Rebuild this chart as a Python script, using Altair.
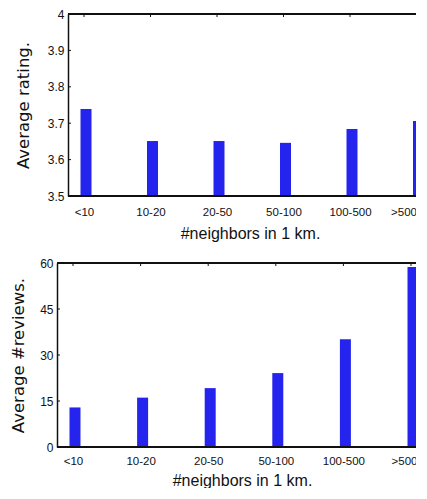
import altair as alt
import pandas as pd

cats = ["<10", "10-20", "20-50", "50-100", "100-500", ">500"]
rating = [3.739, 3.651, 3.651, 3.646, 3.684, 3.706]
reviews = [12.9, 16.1, 19.2, 24.1, 35.1, 58.7]
rating_ticks = [3.5, 3.6, 3.7, 3.8, 3.9, 4.0]
review_ticks = [0, 15, 30, 45, 60]

BAR = "#2424ee"
INK = "#111111"
LABEL_FONT = "Liberation Sans"
TITLE_FONT_Y = "DejaVu Sans"
LAST = cats[-1]


def panel(values, ticks, ytitle, domain, width, height, fmt, shift, xrange,
          ytitle_pad, ylabel_pad, xlabel_pad, xtitle_pad, xtitle_x, right_border, last_off):
    df = pd.DataFrame({"cat": cats, "val": values})
    tdf = pd.DataFrame({"val": ticks})
    xs = alt.Scale(type="point", range=xrange, padding=0)
    ys = alt.Scale(domain=domain, nice=False, zero=False)
    xaxis = alt.Axis(title="#neighbors in 1 km.", labelAngle=0, ticks=False,
                     domain=False, labelPadding=xlabel_pad, titlePadding=xtitle_pad,
                     titleX=xtitle_x,
                     labelAlign={"condition": {"test": f"datum.value === '{LAST}'", "value": "right"},
                                 "value": "center"},
                     labelOffset={"condition": {"test": f"datum.value === '{LAST}'", "value": last_off},
                                  "value": 0},
                     labelFont=LABEL_FONT, labelFontSize=11.5,
                     titleFont=LABEL_FONT, titleFontSize=16, titleFontWeight="normal",
                     labelColor=INK, titleColor=INK)
    yaxis = alt.Axis(title=ytitle, values=ticks, format=fmt, ticks=False, grid=False,
                     domain=True, domainColor=INK, domainWidth=1.5, offset=-shift,
                     labelPadding=ylabel_pad, titlePadding=ytitle_pad,
                     labelFont=LABEL_FONT, labelFontSize=12,
                     titleFont=TITLE_FONT_Y, titleFontSize=16.5, titleFontWeight="normal",
                     labelColor=INK, titleColor=INK)
    bars = alt.Chart(df).mark_bar(size=11, color=BAR, xOffset=2, clip=True).encode(
        x=alt.X("cat:N", sort=cats, scale=xs, axis=xaxis),
        y=alt.Y("val:Q", scale=ys, axis=yaxis),
        y2=alt.datum(domain[0]),
    )
    layers = [bars]
    # inward ticks on the left axis
    layers.append(alt.Chart(tdf).mark_rule(color=INK, strokeWidth=1).encode(
        y=alt.Y("val:Q", scale=ys, axis=yaxis), x=alt.value(shift), x2=alt.value(shift + 3)))
    # inward ticks on the top border
    layers.append(alt.Chart(df).mark_rule(color=INK, strokeWidth=1).encode(
        x=alt.X("cat:N", sort=cats, scale=xs, axis=xaxis), y=alt.value(0), y2=alt.value(3)))
    # top and bottom borders
    layers.append(alt.Chart(tdf).mark_rule(color=INK, strokeWidth=1.5).encode(
        x=alt.value(shift), x2=alt.value(width), y=alt.value(0)))
    layers.append(alt.Chart(tdf).mark_rule(color=INK, strokeWidth=1.5).encode(
        x=alt.value(shift), x2=alt.value(width), y=alt.value(height)))
    if right_border:
        layers.append(alt.Chart(tdf).mark_rule(color=INK, strokeWidth=1).encode(
            y=alt.Y("val:Q", scale=ys, axis=yaxis), x=alt.value(width - 4), x2=alt.value(width - 1)))
        layers.append(alt.Chart(tdf).mark_rule(color=INK, strokeWidth=1).encode(
            x=alt.value(width - 0.5), y=alt.value(0), y2=alt.value(height)))
    return alt.layer(*layers).properties(width=width, height=height)


top = panel(rating, rating_ticks, "Average rating.", [3.5, 4.0], 370, 182, ".1~f",
            11, [27, 359.5], 16, 4, 10, 7.5, 193, False, 0)
bottom = panel(reviews, review_ticks, "Average #reviews.", [0, 60], 370, 184, "d",
               0, [16, 354], 13, 4, 8, 5.5, 185, True, 6)

chart = alt.vconcat(top, bottom, spacing=16).configure_view(
    strokeWidth=0
).properties(padding={"left": 2, "top": 0, "right": -12, "bottom": 0}, background="white")

chart.save("out.html", embed_options={"renderer": "svg", "actions": False})
